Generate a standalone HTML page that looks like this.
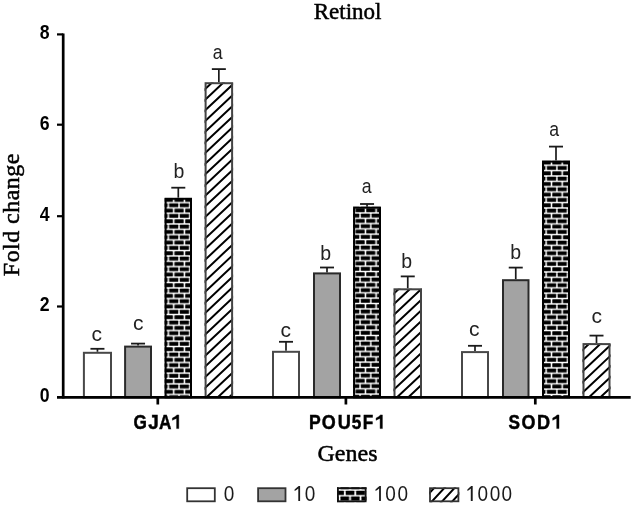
<!DOCTYPE html>
<html><head><meta charset="utf-8"><title>Retinol</title>
<style>
html,body{margin:0;padding:0;background:#fff;}
svg{display:block;will-change:transform;}
.sans{font-family:"Liberation Sans",sans-serif;}
.serif{font-family:"Liberation Serif",serif;}
</style></head><body>
<svg width="633" height="506" viewBox="0 0 633 506">
<defs>
<pattern id="br2" patternUnits="userSpaceOnUse" x="168.40" y="202.60" width="10.67" height="10.66"><rect width="10.67" height="10.66" fill="#fff"/><rect x="-9.920" y="0.625" width="9.170" height="4.080" rx="0.6" fill="#000"/><rect x="0.750" y="0.625" width="9.170" height="4.080" rx="0.6" fill="#000"/><rect x="11.420" y="0.625" width="9.170" height="4.080" rx="0.6" fill="#000"/><rect x="-4.585" y="5.955" width="9.170" height="4.080" rx="0.6" fill="#000"/><rect x="6.085" y="5.955" width="9.170" height="4.080" rx="0.6" fill="#000"/></pattern>
<pattern id="br6" patternUnits="userSpaceOnUse" x="360.10" y="212.90" width="10.67" height="10.66"><rect width="10.67" height="10.66" fill="#fff"/><rect x="-9.920" y="0.625" width="9.170" height="4.080" rx="0.6" fill="#000"/><rect x="0.750" y="0.625" width="9.170" height="4.080" rx="0.6" fill="#000"/><rect x="11.420" y="0.625" width="9.170" height="4.080" rx="0.6" fill="#000"/><rect x="-4.585" y="5.955" width="9.170" height="4.080" rx="0.6" fill="#000"/><rect x="6.085" y="5.955" width="9.170" height="4.080" rx="0.6" fill="#000"/></pattern>
<pattern id="br10" patternUnits="userSpaceOnUse" x="546.20" y="165.30" width="10.67" height="10.66"><rect width="10.67" height="10.66" fill="#fff"/><rect x="-9.920" y="0.625" width="9.170" height="4.080" rx="0.6" fill="#000"/><rect x="0.750" y="0.625" width="9.170" height="4.080" rx="0.6" fill="#000"/><rect x="11.420" y="0.625" width="9.170" height="4.080" rx="0.6" fill="#000"/><rect x="-4.585" y="5.955" width="9.170" height="4.080" rx="0.6" fill="#000"/><rect x="6.085" y="5.955" width="9.170" height="4.080" rx="0.6" fill="#000"/></pattern>
<pattern id="brL" patternUnits="userSpaceOnUse" x="344.80" y="490.00" width="10.5" height="11.4"><rect width="10.5" height="11.4" fill="#fff"/><rect x="-9.600" y="0.700" width="8.700" height="4.300" rx="0.6" fill="#000"/><rect x="0.900" y="0.700" width="8.700" height="4.300" rx="0.6" fill="#000"/><rect x="11.400" y="0.700" width="8.700" height="4.300" rx="0.6" fill="#000"/><rect x="-4.350" y="6.400" width="8.700" height="4.300" rx="0.6" fill="#000"/><rect x="6.150" y="6.400" width="8.700" height="4.300" rx="0.6" fill="#000"/></pattern>
<clipPath id="cp2"><rect x="164.60" y="198.20" width="27.40" height="199.10"/></clipPath>
<clipPath id="cp3"><rect x="204.60" y="82.60" width="28.50" height="314.70"/></clipPath>
<clipPath id="cp6"><rect x="353.10" y="207.10" width="27.90" height="190.20"/></clipPath>
<clipPath id="cp7"><rect x="393.50" y="288.70" width="28.50" height="108.60"/></clipPath>
<clipPath id="cp10"><rect x="542.00" y="161.00" width="28.00" height="236.30"/></clipPath>
<clipPath id="cp11"><rect x="582.50" y="343.50" width="28.00" height="53.80"/></clipPath>
<clipPath id="cpL"><rect x="429.1" y="487.4" width="30.2" height="14.8"/></clipPath>
</defs>
<rect x="0" y="0" width="633" height="506" fill="#fff"/>
<line x1="97.45" y1="348.80" x2="97.45" y2="351.80" stroke="#1a1a1a" stroke-width="1.7"/>
<line x1="90.45" y1="348.80" x2="104.45" y2="348.80" stroke="#1a1a1a" stroke-width="1.8"/>
<rect x="83.90" y="352.80" width="27.10" height="44.50" fill="#fff" stroke="#484848" stroke-width="2.0"/>
<line x1="138.05" y1="343.60" x2="138.05" y2="345.60" stroke="#1a1a1a" stroke-width="1.7"/>
<line x1="131.05" y1="343.60" x2="145.05" y2="343.60" stroke="#1a1a1a" stroke-width="1.8"/>
<rect x="125.10" y="346.60" width="25.90" height="50.70" fill="#a3a3a3" stroke="#2a2a2a" stroke-width="2.0"/>
<line x1="178.30" y1="187.70" x2="178.30" y2="197.80" stroke="#1a1a1a" stroke-width="1.7"/>
<line x1="171.30" y1="187.70" x2="185.30" y2="187.70" stroke="#1a1a1a" stroke-width="1.8"/>
<rect x="164.60" y="197.80" width="27.40" height="199.50" fill="url(#br2)"/>
<rect x="165.60" y="198.80" width="25.40" height="198.50" fill="none" stroke="#000" stroke-width="2.0"/>
<line x1="218.85" y1="69.10" x2="218.85" y2="82.20" stroke="#1a1a1a" stroke-width="1.7"/>
<line x1="211.85" y1="69.10" x2="225.85" y2="69.10" stroke="#1a1a1a" stroke-width="1.8"/>
<g clip-path="url(#cp3)"><path d="M198.60 73.86L239.10 35.79M198.60 84.53L239.10 46.46M198.60 95.20L239.10 57.13M198.60 105.87L239.10 67.80M198.60 116.54L239.10 78.47M198.60 127.21L239.10 89.14M198.60 137.88L239.10 99.81M198.60 148.55L239.10 110.48M198.60 159.22L239.10 121.15M198.60 169.89L239.10 131.82M198.60 180.56L239.10 142.49M198.60 191.23L239.10 153.16M198.60 201.90L239.10 163.83M198.60 212.57L239.10 174.50M198.60 223.24L239.10 185.17M198.60 233.91L239.10 195.84M198.60 244.58L239.10 206.51M198.60 255.25L239.10 217.18M198.60 265.92L239.10 227.85M198.60 276.59L239.10 238.52M198.60 287.26L239.10 249.19M198.60 297.93L239.10 259.86M198.60 308.60L239.10 270.53M198.60 319.27L239.10 281.20M198.60 329.94L239.10 291.87M198.60 340.61L239.10 302.54M198.60 351.28L239.10 313.21M198.60 361.95L239.10 323.88M198.60 372.62L239.10 334.55M198.60 383.29L239.10 345.22M198.60 393.96L239.10 355.89M198.60 404.63L239.10 366.56M198.60 415.30L239.10 377.23M198.60 425.97L239.10 387.90M198.60 436.64L239.10 398.57M198.60 447.31L239.10 409.24" stroke="#000" stroke-width="2.0" fill="none"/></g>
<rect x="205.60" y="83.20" width="26.50" height="314.10" fill="none" stroke="#444" stroke-width="2.0"/>
<line x1="286.00" y1="341.80" x2="286.00" y2="350.80" stroke="#1a1a1a" stroke-width="1.7"/>
<line x1="279.00" y1="341.80" x2="293.00" y2="341.80" stroke="#1a1a1a" stroke-width="1.8"/>
<rect x="273.00" y="351.80" width="26.00" height="45.50" fill="#fff" stroke="#484848" stroke-width="2.0"/>
<line x1="327.00" y1="267.50" x2="327.00" y2="272.40" stroke="#1a1a1a" stroke-width="1.7"/>
<line x1="320.00" y1="267.50" x2="334.00" y2="267.50" stroke="#1a1a1a" stroke-width="1.8"/>
<rect x="314.00" y="273.40" width="26.00" height="123.90" fill="#a3a3a3" stroke="#2a2a2a" stroke-width="2.0"/>
<line x1="367.05" y1="204.00" x2="367.05" y2="206.70" stroke="#1a1a1a" stroke-width="1.7"/>
<line x1="360.05" y1="204.00" x2="374.05" y2="204.00" stroke="#1a1a1a" stroke-width="1.8"/>
<rect x="353.10" y="206.70" width="27.90" height="190.60" fill="url(#br6)"/>
<rect x="354.10" y="207.70" width="25.90" height="189.60" fill="none" stroke="#000" stroke-width="2.0"/>
<line x1="407.75" y1="276.40" x2="407.75" y2="288.30" stroke="#1a1a1a" stroke-width="1.7"/>
<line x1="400.75" y1="276.40" x2="414.75" y2="276.40" stroke="#1a1a1a" stroke-width="1.8"/>
<g clip-path="url(#cp7)"><path d="M387.50 278.15L428.00 240.08M387.50 288.82L428.00 250.75M387.50 299.49L428.00 261.42M387.50 310.16L428.00 272.09M387.50 320.83L428.00 282.76M387.50 331.50L428.00 293.43M387.50 342.17L428.00 304.10M387.50 352.84L428.00 314.77M387.50 363.51L428.00 325.44M387.50 374.18L428.00 336.11M387.50 384.85L428.00 346.78M387.50 395.52L428.00 357.45M387.50 406.19L428.00 368.12M387.50 416.86L428.00 378.79M387.50 427.53L428.00 389.46M387.50 438.20L428.00 400.13M387.50 448.87L428.00 410.80" stroke="#000" stroke-width="2.0" fill="none"/></g>
<rect x="394.50" y="289.30" width="26.50" height="108.00" fill="none" stroke="#444" stroke-width="2.0"/>
<line x1="475.00" y1="345.80" x2="475.00" y2="351.10" stroke="#1a1a1a" stroke-width="1.7"/>
<line x1="468.00" y1="345.80" x2="482.00" y2="345.80" stroke="#1a1a1a" stroke-width="1.8"/>
<rect x="462.00" y="352.10" width="26.00" height="45.20" fill="#fff" stroke="#484848" stroke-width="2.0"/>
<line x1="515.75" y1="267.60" x2="515.75" y2="279.20" stroke="#1a1a1a" stroke-width="1.7"/>
<line x1="508.75" y1="267.60" x2="522.75" y2="267.60" stroke="#1a1a1a" stroke-width="1.8"/>
<rect x="503.00" y="280.20" width="25.50" height="117.10" fill="#a3a3a3" stroke="#2a2a2a" stroke-width="2.0"/>
<line x1="556.00" y1="146.60" x2="556.00" y2="160.60" stroke="#1a1a1a" stroke-width="1.7"/>
<line x1="549.00" y1="146.60" x2="563.00" y2="146.60" stroke="#1a1a1a" stroke-width="1.8"/>
<rect x="542.00" y="160.60" width="28.00" height="236.70" fill="url(#br10)"/>
<rect x="543.00" y="161.60" width="26.00" height="235.70" fill="none" stroke="#000" stroke-width="2.0"/>
<line x1="596.50" y1="335.60" x2="596.50" y2="343.10" stroke="#1a1a1a" stroke-width="1.7"/>
<line x1="589.50" y1="335.60" x2="603.50" y2="335.60" stroke="#1a1a1a" stroke-width="1.8"/>
<g clip-path="url(#cp11)"><path d="M576.50 334.33L616.50 296.73M576.50 345.00L616.50 307.40M576.50 355.67L616.50 318.07M576.50 366.34L616.50 328.74M576.50 377.01L616.50 339.41M576.50 387.68L616.50 350.08M576.50 398.35L616.50 360.75M576.50 409.02L616.50 371.42M576.50 419.69L616.50 382.09M576.50 430.36L616.50 392.76M576.50 441.03L616.50 403.43" stroke="#000" stroke-width="2.0" fill="none"/></g>
<rect x="583.50" y="344.10" width="26.00" height="53.20" fill="none" stroke="#444" stroke-width="2.0"/>
<g class="sans" fill="#222" text-anchor="middle">
<text font-size="21.0" transform="translate(96.78,340.90) scale(1.0,1)">c</text>
<text font-size="21.0" transform="translate(138.18,330.30) scale(1.0,1)">c</text>
<text font-size="19.5" transform="translate(179.03,177.60) scale(1.0,1)">b</text>
<text font-size="20.3" transform="translate(217.75,58.80) scale(0.87,1)">a</text>
<text font-size="21.0" transform="translate(285.73,336.50) scale(1.0,1)">c</text>
<text font-size="19.5" transform="translate(325.68,259.80) scale(1.0,1)">b</text>
<text font-size="20.3" transform="translate(366.55,193.40) scale(0.87,1)">a</text>
<text font-size="19.5" transform="translate(406.78,267.60) scale(1.0,1)">b</text>
<text font-size="21.0" transform="translate(474.28,335.60) scale(1.0,1)">c</text>
<text font-size="19.5" transform="translate(515.78,258.60) scale(1.0,1)">b</text>
<text font-size="20.3" transform="translate(554.10,136.10) scale(0.87,1)">a</text>
<text font-size="21.0" transform="translate(596.68,323.20) scale(1.0,1)">c</text>
</g>
<g stroke="#000" stroke-width="2.7" fill="none">
<line x1="63.2" y1="33.4" x2="63.2" y2="398.5"/>
<line x1="57" y1="397.3" x2="630.7" y2="397.3"/>
<line x1="57" y1="34.40" x2="63.2" y2="34.40" stroke-width="2.2"/>
<line x1="57" y1="124.70" x2="63.2" y2="124.70" stroke-width="2.2"/>
<line x1="57" y1="216.20" x2="63.2" y2="216.20" stroke-width="2.2"/>
<line x1="57" y1="306.50" x2="63.2" y2="306.50" stroke-width="2.2"/>
<line x1="157.8" y1="397.3" x2="157.8" y2="404.5"/>
<line x1="345.9" y1="397.3" x2="345.9" y2="404.5"/>
<line x1="535.3" y1="397.3" x2="535.3" y2="404.5"/>
</g>
<g class="sans" font-size="19" font-weight="bold" fill="#000" text-anchor="end">
<text transform="translate(49.6,402.20) scale(0.93,1.09)">0</text>
<text transform="translate(49.6,311.40) scale(0.93,1.09)">2</text>
<text transform="translate(49.6,221.10) scale(0.93,1.09)">4</text>
<text transform="translate(49.6,129.60) scale(0.93,1.09)">6</text>
<text transform="translate(49.6,39.30) scale(0.93,1.09)">8</text>
</g>
<g class="sans" font-size="18.5" font-weight="bold" fill="#000" stroke="#000" stroke-width="0.45">
<text transform="translate(133.49,428.6) scale(0.93,1.05)">G</text>
<text transform="translate(148.20,428.6) scale(1.02,1.05)">J</text>
<text transform="translate(158.97,428.6) scale(0.93,1.05)">A</text>
<text transform="translate(309.05,428.6) scale(0.95,1.05)">P</text>
<text transform="translate(321.69,428.6) scale(0.97,1.05)">O</text>
<text transform="translate(337.87,428.6) scale(0.98,1.05)">U</text>
<text transform="translate(351.77,428.6) scale(0.93,1.05)">5</text>
<text transform="translate(362.85,428.6) scale(0.93,1.05)">F</text>
<text transform="translate(508.40,428.6) scale(0.93,1.05)">S</text>
<text transform="translate(521.59,428.6) scale(0.97,1.05)">O</text>
<text transform="translate(537.05,428.6) scale(0.98,1.05)">D</text>
</g>
<path d="M178.80 414.90L178.80 428.60L176.60 428.60L176.60 418.42Q174.50 418.98 172.40 420.30L172.40 418.10Q175.10 416.88 177.00 414.90Z" fill="#000" stroke="#000" stroke-width="0.4"/>
<path d="M382.40 414.90L382.40 428.60L380.10 428.60L380.10 418.42Q378.10 418.98 376.10 420.30L376.10 418.10Q378.70 416.88 380.50 414.90Z" fill="#000" stroke="#000" stroke-width="0.4"/>
<path d="M559.00 414.90L559.00 428.60L556.70 428.60L556.70 418.42Q554.70 418.98 552.70 420.30L552.70 418.10Q555.30 416.88 557.10 414.90Z" fill="#000" stroke="#000" stroke-width="0.4"/>
<text class="serif" x="347.6" y="19.4" font-size="23" text-anchor="middle" fill="#000" stroke="#000" stroke-width="0.5">Retinol</text>
<text class="serif" x="347.5" y="461.3" font-size="24" text-anchor="middle" fill="#000" stroke="#000" stroke-width="0.5">Genes</text>
<text class="serif" x="0" y="0" font-size="24" text-anchor="middle" fill="#000" stroke="#000" stroke-width="0.5" letter-spacing="0.45" transform="translate(19.0,214.7) rotate(-90)">Fold change</text>
<rect x="187.20" y="488.20" width="27.60" height="13.10" fill="#fff" stroke="#333" stroke-width="1.8"/>
<rect x="258.10" y="488.20" width="27.40" height="13.10" fill="#a3a3a3" stroke="#333" stroke-width="1.8"/>
<rect x="337.0" y="487.3" width="29.5" height="14.90" fill="url(#brL)"/>
<rect x="337.90" y="488.20" width="27.70" height="13.10" fill="none" stroke="#111" stroke-width="1.8"/>
<g clip-path="url(#cpL)"><path d="M423.10 477.94L465.30 432.36M423.10 488.94L465.30 443.36M423.10 499.94L465.30 454.36M423.10 510.94L465.30 465.36M423.10 521.94L465.30 476.36M423.10 532.94L465.30 487.36M423.10 543.94L465.30 498.36M423.10 554.94L465.30 509.36" stroke="#000" stroke-width="2.0" fill="none"/></g>
<rect x="430.00" y="488.20" width="28.40" height="13.10" fill="none" stroke="#333" stroke-width="1.8"/>
<g class="sans" font-size="20" fill="#1a1a1a">
<text transform="translate(223.65,501.0) scale(0.95,1.12)">0</text>
<text transform="translate(304.65,501.0) scale(0.95,1.12)">0</text>
<text transform="translate(385.25,501.0) scale(0.95,1.12)">0</text>
<text transform="translate(397.55,501.0) scale(0.95,1.12)">0</text>
<text transform="translate(477.45,501.0) scale(0.95,1.12)">0</text>
<text transform="translate(489.75,501.0) scale(0.95,1.12)">0</text>
<text transform="translate(501.55,501.0) scale(0.95,1.12)">0</text>
</g>
<path d="M300.10 486.00L300.10 501.00L298.30 501.00L298.30 488.56Q296.45 490.14 294.60 491.10L294.60 489.50Q297.05 487.44 298.70 486.00Z" fill="#1a1a1a"/>
<path d="M380.90 486.00L380.90 501.00L379.10 501.00L379.10 488.56Q377.30 490.14 375.50 491.10L375.50 489.50Q377.90 487.44 379.50 486.00Z" fill="#1a1a1a"/>
<path d="M472.70 486.00L472.70 501.00L470.80 501.00L470.80 488.56Q469.10 490.14 467.40 491.10L467.40 489.50Q469.70 487.44 471.20 486.00Z" fill="#1a1a1a"/>
</svg>
</body></html>
